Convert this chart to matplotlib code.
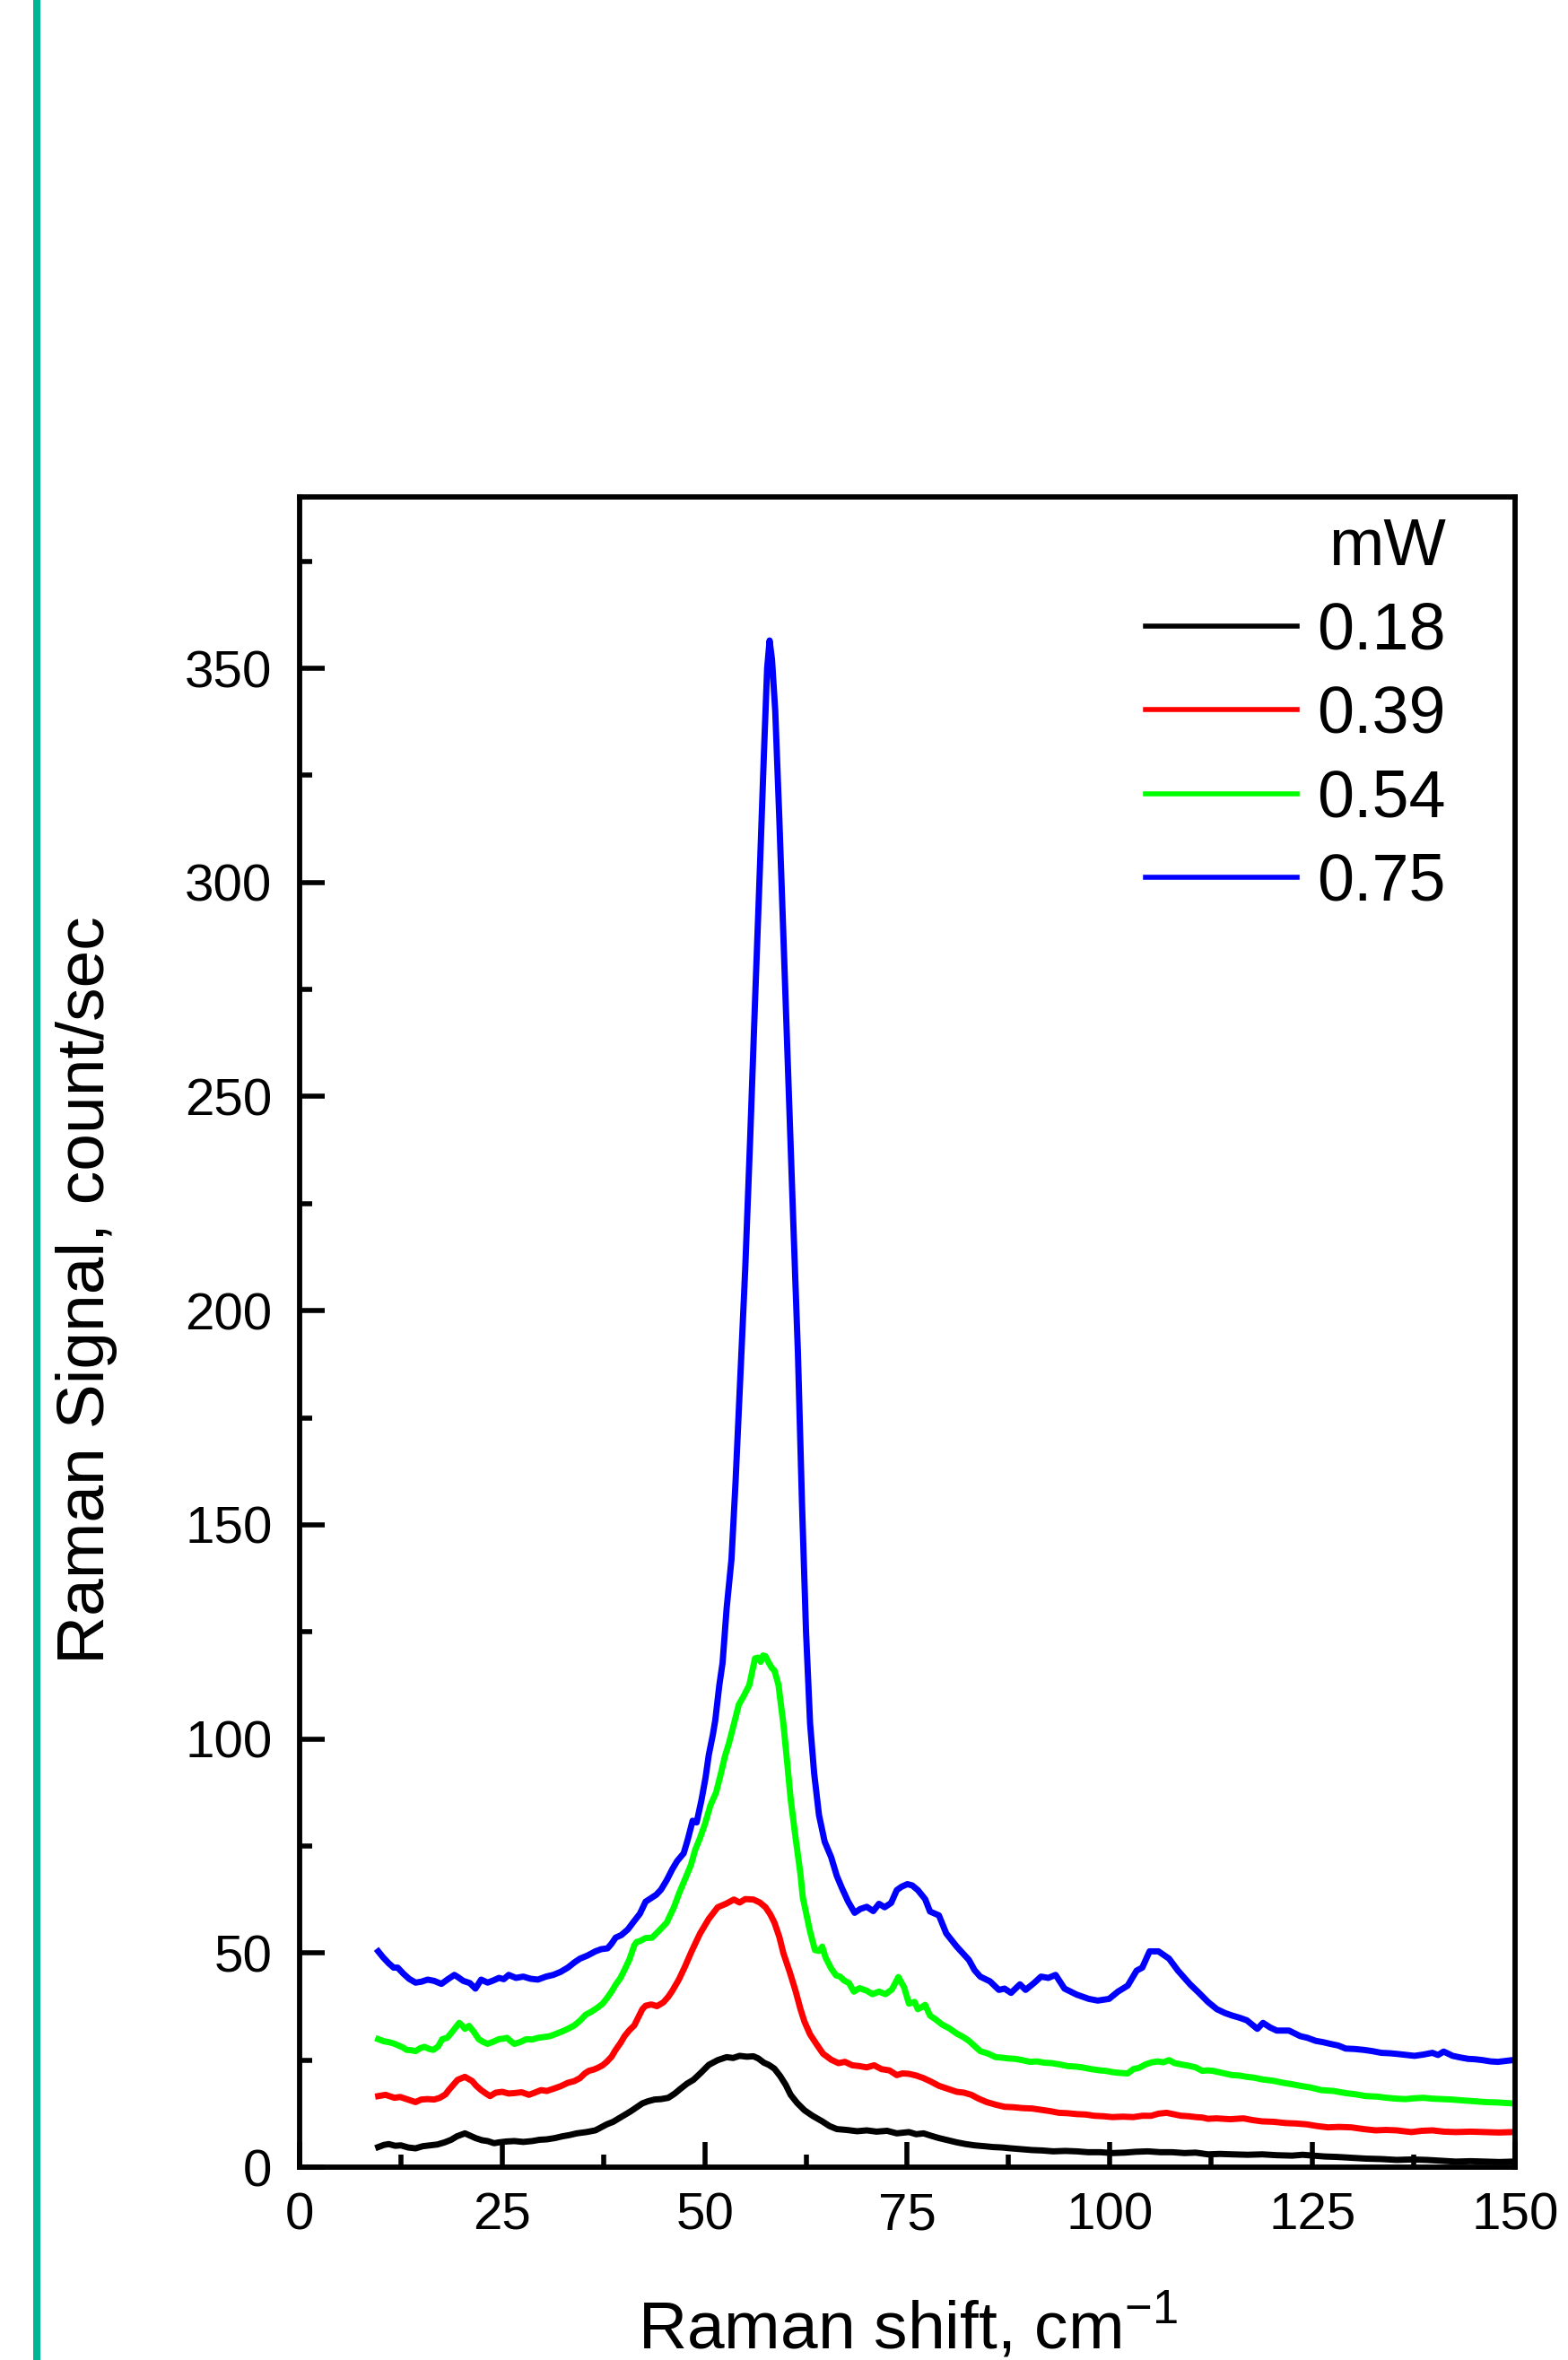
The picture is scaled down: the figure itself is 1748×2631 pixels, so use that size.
"""
Raman spectra at four laser powers (0.18 - 0.75 mW), 10-150 cm-1.
Values read off the reference picture.
"""
import matplotlib
matplotlib.use("Agg")
import matplotlib.pyplot as plt
from matplotlib.patches import Rectangle
from matplotlib.ticker import MultipleLocator

plt.rcParams["font.family"] = ["Liberation Sans", "DejaVu Sans"]
plt.rcParams["mathtext.fontset"] = "custom"
plt.rcParams["mathtext.rm"] = "Liberation Sans"

POWERS = ["0.18", "0.39", "0.54", "0.75"]
COLOURS = ["#000000", "#FF0000", "#00FF00", "#0000FF"]

x_018 = [9.7, 10.4, 11.0, 11.8, 12.5, 13.4, 14.3, 15.2, 16.1, 17.0, 17.9, 18.7, 19.4, 20.4, 21.0,
         21.7, 22.5, 23.2, 24.0, 24.6, 25.5, 26.5, 27.6, 28.7, 29.6, 30.5, 31.5, 32.4, 33.3, 34.2,
         35.4, 36.5, 37.2, 37.9, 38.7, 39.4, 40.2, 40.9, 41.6, 42.3, 43.0, 43.8, 44.6, 45.5, 46.3,
         47.0, 47.8, 48.6, 49.5, 50.5, 51.6, 52.7, 53.5, 54.3, 55.2, 56.0, 56.6, 57.3, 57.9, 58.6,
         59.3, 60.0, 60.6, 61.4, 62.3, 63.3, 64.5, 65.4, 66.3, 67.5, 68.8, 70.0, 71.2, 72.5, 73.7,
         75.2, 76.1, 77.0, 78.0, 78.9, 80.0, 81.1, 82.2, 83.3, 84.5, 85.6, 86.7, 87.8, 89.1, 90.4,
         91.7, 93.0, 94.5, 95.9, 97.3, 98.8, 100.3, 101.8, 103.2, 104.7, 106.2, 107.7, 109.2, 110.6,
         112.1, 113.6, 115.1, 117.0, 118.8, 120.6, 122.5, 123.8, 125.1, 126.5, 128.0, 129.8, 131.6,
         133.5, 135.4, 137.2, 139.1, 140.9, 142.7, 144.5, 146.4, 148.1, 149.7]
y_018 = [4.7, 5.2, 5.4, 5.0, 5.1, 4.6, 4.4, 4.9, 5.1, 5.3, 5.8, 6.4, 7.2, 7.9, 7.4,
         6.8, 6.3, 6.1, 5.6, 5.8, 6.0, 6.1, 5.9, 6.1, 6.4, 6.5, 6.8, 7.2, 7.5, 7.9,
         8.2, 8.6, 9.3, 10.0, 10.6, 11.4, 12.3, 13.1, 14.0, 14.9, 15.4, 15.8, 15.9, 16.2, 17.2,
         18.3, 19.5, 20.4, 22.0, 23.9, 25.0, 25.7, 25.5, 26.0, 25.8, 25.9, 25.4, 24.4, 23.9, 23.0,
         21.3, 19.2, 16.9, 15.0, 13.3, 12.0, 10.7, 9.6, 8.9, 8.7, 8.4, 8.6, 8.3, 8.5, 7.9,
         8.2, 7.7, 7.9, 7.3, 6.8, 6.3, 5.8, 5.4, 5.1, 4.9, 4.7, 4.6, 4.4, 4.2, 4.0,
         3.9, 3.7, 3.8, 3.7, 3.5, 3.5, 3.3, 3.4, 3.6, 3.7, 3.5, 3.5, 3.3, 3.4,
         3.0, 3.1, 3.0, 2.9, 3.0, 2.8, 2.7, 2.9, 2.7, 2.5, 2.4, 2.2, 2.0,
         1.9, 1.7, 1.8, 1.7, 1.5, 1.3, 1.4, 1.3, 1.2, 1.3]

x_039 = [9.7, 10.6, 11.7, 12.4, 13.2, 14.3, 15.0, 15.8, 16.6, 17.3, 18.0, 18.4, 19.0, 19.5, 20.4,
         21.3, 21.8, 22.4, 23.0, 23.5, 24.2, 25.0, 25.8, 26.5, 27.4, 28.3, 29.0, 29.8, 30.5, 31.3,
         32.2, 33.1, 33.9, 34.6, 35.2, 35.7, 36.3, 36.8, 37.4, 37.9, 38.5, 39.0, 39.6, 40.1, 40.7,
         41.3, 41.8, 42.3, 42.7, 43.4, 44.1, 44.9, 45.5, 46.0, 46.8, 47.5, 48.4, 49.4, 50.5, 51.6,
         52.6, 53.6, 54.3, 55.0, 56.0, 56.8, 57.5, 58.1, 58.6, 59.2, 59.7, 60.5, 61.2, 61.8, 62.3,
         63.0, 63.8, 64.6, 65.6, 66.5, 67.3, 68.2, 69.1, 70.0, 70.9, 71.8, 72.8, 73.7, 74.4, 75.2,
         76.1, 77.0, 77.9, 78.9, 80.0, 81.1, 82.0, 82.9, 83.8, 84.8, 85.9, 87.0, 88.1, 89.2, 90.4,
         91.5, 92.6, 93.7, 94.8, 95.9, 97.0, 98.1, 99.2, 100.3, 101.6, 102.9, 104.0, 105.1, 106.0,
         107.0, 108.0, 108.8, 109.7, 110.6, 111.4, 112.1, 113.2, 114.8, 116.5, 117.6, 118.8, 120.2,
         121.7, 123.0, 124.3, 125.6, 126.9, 128.3, 129.8, 131.3, 132.8, 134.1, 135.4, 136.3, 137.2,
         138.5, 139.8, 141.2, 142.7, 144.5, 146.4, 148.0, 149.7]
y_039 = [16.6, 16.9, 16.2, 16.4, 15.9, 15.2, 15.8, 15.9, 15.8, 16.2, 17.0, 18.0, 19.3, 20.4, 21.1,
         20.1, 19.0, 18.0, 17.2, 16.6, 17.4, 17.6, 17.2, 17.3, 17.5, 16.9, 17.4, 18.0, 17.8, 18.3,
         18.9, 19.7, 20.1, 20.8, 21.9, 22.5, 22.8, 23.2, 23.8, 24.6, 25.8, 27.4, 29.0, 30.6, 32.0,
         33.1, 35.0, 36.9, 37.7, 38.0, 37.6, 38.5, 39.8, 41.2, 43.8, 46.6, 50.5, 54.5, 58.0, 60.7,
         61.5, 62.5, 61.8, 62.6, 62.5, 61.8, 60.7, 59.0, 57.1, 53.8, 50.0, 45.5, 41.2, 37.0, 34.0,
         31.0, 28.7, 26.5, 25.1, 24.3, 24.6, 23.8, 23.6, 23.3, 23.8, 22.9, 22.6, 21.5, 21.9, 21.8,
         21.4, 20.8, 20.0, 19.0, 18.3, 17.6, 17.4, 16.9, 16.0, 15.2, 14.6, 14.1, 14.0, 13.8, 13.7,
         13.4, 13.1, 12.7, 12.6, 12.4, 12.3, 12.0, 11.9, 11.7, 11.8, 11.7, 12.0, 12.0, 12.5,
         12.7, 12.3, 12.0, 11.9, 11.7, 11.6, 11.3, 11.4, 11.2, 11.4, 11.0, 10.7, 10.6,
         10.3, 10.2, 10.0, 9.6, 9.3, 9.4, 9.3, 8.9, 8.6, 8.7, 8.6, 8.4, 8.2,
         8.5, 8.6, 8.3, 8.2, 8.3, 8.2, 8.1, 8.2]

x_054 = [9.7, 10.4, 11.0, 11.6, 12.1, 12.7, 13.2, 13.8, 14.3, 14.9, 15.4, 16.0, 16.5, 17.1, 17.6,
         18.2, 18.7, 19.2, 19.7, 20.1, 20.4, 20.9, 21.5, 22.1, 22.6, 23.2, 23.9, 24.6, 25.1, 25.6,
         26.0, 26.5, 27.2, 28.0, 28.7, 29.4, 30.2, 30.9, 31.6, 32.4, 33.1, 33.9, 34.6, 35.3, 36.0,
         36.8, 37.4, 37.9, 38.5, 39.0, 39.6, 40.1, 40.7, 41.3, 41.6, 42.0, 42.7, 43.5, 44.4, 45.3,
         46.2, 46.8, 47.5, 48.3, 48.8, 49.4, 50.0, 50.7, 51.4, 52.0, 52.5, 53.0, 53.6, 54.2, 54.8,
         55.5, 56.2, 56.6, 56.9, 57.2, 57.5, 57.9, 58.3, 58.6, 59.1, 59.4, 59.7, 60.2, 60.6, 61.2,
         61.8, 62.1, 62.5, 63.0, 63.6, 64.1, 64.5, 64.9, 65.6, 66.2, 66.7, 67.2, 67.8, 68.4, 69.1,
         70.0, 70.7, 71.5, 72.3, 73.1, 73.9, 74.6, 75.2, 75.9, 76.3, 76.8, 77.2, 77.8, 78.5, 79.3,
         80.2, 81.1, 81.9, 82.6, 83.3, 84.0, 85.0, 85.9, 86.6, 87.4, 88.3, 89.2, 90.1, 91.0, 91.9,
         92.8, 93.8, 94.8, 95.7, 96.6, 97.7, 98.8, 99.5, 100.3, 101.3, 102.2, 102.9, 103.6, 104.4,
         105.2, 105.9, 106.6, 107.3, 108.0, 108.8, 109.7, 110.6, 111.4, 112.1, 112.7, 113.9, 115.1,
         116.0, 116.9, 117.8, 118.8, 120.1, 121.4, 122.4, 123.5, 124.8, 126.1, 127.6, 129.1, 130.4,
         131.6, 132.9, 134.2, 135.4, 136.5, 137.6, 138.7, 139.8, 140.9, 142.2, 143.5, 145.0, 146.4,
         148.0, 149.7]
y_054 = [29.9, 29.4, 29.2, 28.9, 28.5, 28.0, 27.4, 27.3, 27.1, 27.8, 28.1, 27.6, 27.4, 28.2, 29.9,
         30.2, 31.3, 32.5, 33.7, 33.0, 32.3, 33.0, 31.6, 29.9, 29.3, 28.8, 29.3, 29.9, 30.0, 30.2,
         29.5, 28.8, 29.2, 29.9, 29.8, 30.2, 30.4, 30.6, 31.1, 31.7, 32.3, 33.1, 34.2, 35.6, 36.3,
         37.3, 38.2, 39.4, 41.0, 42.6, 44.2, 46.1, 48.5, 51.8, 52.6, 52.8, 53.5, 53.6, 55.3, 57.1,
         60.7, 63.8, 67.0, 70.6, 74.0, 76.8, 80.0, 84.5, 87.5, 92.0, 96.0, 99.1, 103.5, 108.0, 110.0,
         112.6, 118.8, 119.0, 118.0, 119.5, 119.3, 117.8, 116.5, 116.0, 112.6, 108.0, 103.6, 94.0, 86.0, 77.0,
         68.6, 63.0, 59.4, 55.0, 50.7, 50.5, 51.5, 49.0, 46.4, 44.8, 44.5, 43.6, 43.0, 41.0, 41.8,
         41.2, 40.4, 41.0, 40.4, 41.5, 44.4, 42.0, 38.2, 38.6, 36.9, 37.4, 37.9, 35.4, 34.5, 33.3,
         32.4, 31.2, 30.4, 29.5, 28.3, 27.1, 26.5, 25.7, 25.6, 25.4, 25.3, 25.0, 24.6, 24.7, 24.4,
         24.3, 24.0, 23.6, 23.5, 23.3, 22.9, 22.6, 22.5, 22.2, 22.0, 21.9, 22.9, 23.2, 24.0,
         24.5, 24.7, 24.5, 25.0, 24.3, 24.0, 23.7, 23.3, 22.5, 22.6, 22.5, 22.0, 21.5,
         21.4, 21.1, 20.9, 20.5, 20.2, 19.7, 19.4, 19.0, 18.6, 18.0, 17.8, 17.3, 17.0,
         16.6, 16.5, 16.2, 16.0, 15.9, 16.1, 16.2, 16.0, 15.9, 15.8, 15.6, 15.4, 15.2,
         15.1, 14.9]

x_075 = [9.7, 10.3, 11.0, 11.6, 12.1, 12.8, 13.5, 14.3, 15.0, 15.8, 16.6, 17.5, 18.3, 19.1, 19.6,
         20.2, 21.0, 21.7, 22.4, 23.2, 23.9, 24.6, 25.2, 25.8, 26.7, 27.6, 28.5, 29.4, 30.4, 31.3,
         32.2, 33.1, 33.9, 34.6, 35.5, 36.5, 37.2, 38.0, 38.5, 39.0, 39.7, 40.5, 41.3, 42.0, 42.7,
         43.5, 44.0, 44.6, 45.3, 46.0, 46.6, 47.4, 47.9, 48.5, 49.0, 49.6, 50.1, 50.5, 51.0, 51.3,
         51.8, 52.2, 52.7, 53.3, 53.8, 54.4, 55.0, 55.6, 56.2, 56.8, 57.3, 57.7, 58.0, 58.3, 58.7,
         59.2, 59.7, 60.3, 60.9, 61.5, 62.0, 62.5, 63.0, 63.5, 64.1, 64.8, 65.6, 66.3, 66.9, 67.7,
         68.5, 69.2, 70.0, 70.8, 71.5, 72.2, 73.0, 73.7, 74.3, 75.0, 75.6, 76.3, 77.2, 77.8, 78.9,
         79.8, 81.1, 82.6, 83.3, 84.0, 85.2, 86.3, 87.0, 87.8, 88.9, 89.6, 90.7, 91.5, 92.4, 93.3,
         94.4, 95.9, 97.4, 98.5, 99.9, 101.0, 102.2, 103.3, 104.0, 104.9, 106.0, 107.3, 108.4, 109.9,
         111.0, 112.1, 113.2, 114.2, 115.1, 116.0, 116.9, 118.2, 118.9, 119.8, 120.6, 122.1, 123.5,
         124.4, 125.4, 126.3, 127.2, 128.2, 129.1, 130.2, 131.3, 132.4, 133.5, 134.6, 135.7, 136.6,
         137.6, 138.7, 139.8, 140.5, 141.2, 142.3, 143.3, 144.2, 145.1, 146.0, 147.0, 147.9, 148.8,
         149.7]
y_075 = [50.4, 49.0, 47.6, 46.6, 46.6, 45.2, 44.0, 43.1, 43.3, 43.8, 43.5, 42.8, 43.9, 44.9, 44.3,
         43.5, 43.0, 41.7, 43.8, 43.1, 43.6, 44.2, 43.9, 44.9, 44.2, 44.5, 44.0, 43.8, 44.5, 44.9,
         45.6, 46.6, 47.8, 48.7, 49.4, 50.4, 50.9, 51.1, 52.2, 53.6, 54.2, 55.5, 57.5, 59.2, 62.0,
         63.0, 63.6, 64.8, 67.0, 69.6, 71.5, 73.3, 76.5, 80.9, 80.5, 85.8, 91.0, 96.3, 101.0, 104.4,
         112.6, 117.8, 130.5, 142.0, 160.0, 185.0, 210.0, 240.0, 272.0, 303.0, 330.0, 350.0, 356.5, 352.0, 340.0,
         315.0, 288.0, 255.0, 222.0, 190.0, 155.0, 125.0, 103.6, 92.0, 82.2, 76.0, 72.4, 68.0, 65.3, 62.0,
         59.4, 60.3, 60.8, 59.8, 61.5, 60.7, 61.7, 64.7, 65.5, 66.1, 65.8, 64.7, 62.6, 59.7, 58.8,
         54.6, 51.5, 48.4, 46.0, 44.5, 43.4, 41.4, 41.7, 40.7, 42.7, 41.4, 43.1, 44.5, 44.2, 44.9,
         41.7, 40.3, 39.3, 38.9, 39.3, 41.0, 42.4, 45.9, 46.6, 50.4, 50.4, 48.7, 45.9, 42.7,
         40.7, 38.6, 36.9, 36.0, 35.4, 34.9, 34.3, 32.3, 33.7, 32.6, 31.9, 31.9, 30.6,
         30.2, 29.5, 29.2, 28.8, 28.4, 27.7, 27.6, 27.4, 27.1, 26.7, 26.6, 26.4, 26.2,
         26.0, 26.3, 26.7, 26.2, 27.0, 26.0, 25.6, 25.3, 25.2, 25.0, 24.7, 24.6, 24.8,
         25.0]

XS = [x_018, x_039, x_054, x_075]
YS = [y_018, y_039, y_054, y_075]

fig = plt.figure(figsize=(17.48, 26.31), dpi=100)
ax = fig.add_axes([0.1911, 0.0817, 0.7751, 0.7077])

# teal bar down the left edge of the page
fig.add_artist(Rectangle((37 / 1748, 0), 8 / 1748, 1, transform=fig.transFigure,
                         color="#00B496", lw=0))

for xs, ys, c, p in zip(XS, YS, COLOURS, POWERS):
    ax.plot(xs, ys, color=c, lw=5.0, label=p, solid_joinstyle="round")

ax.set_xlim(0, 150)
ax.set_ylim(0, 390)
ax.xaxis.set_major_locator(MultipleLocator(25))
ax.xaxis.set_minor_locator(MultipleLocator(12.5))
ax.yaxis.set_major_locator(MultipleLocator(50))
ax.yaxis.set_minor_locator(MultipleLocator(25))
ax.tick_params(which="both", direction="in", top=False, right=False, width=4.0, labelsize=42)
ax.tick_params(which="major", length=20)
ax.tick_params(which="minor", length=10)
ax.tick_params(axis="x", which="major", pad=20)
ax.tick_params(axis="y", which="major", pad=22)
for s in ax.spines.values():
    s.set_linewidth(4.2)

ax.set_xlabel("Raman shift, cm$^{\\mathregular{-1}}$", fontsize=54)
ax.set_ylabel("Raman Signal, count/sec", fontsize=54)
ax.xaxis.set_label_coords(0.5, -0.074)
ax.yaxis.set_label_coords(-0.15, 0.525)

leg = ax.legend(title="mW", loc="upper right", bbox_to_anchor=(0.943, 0.988), frameon=False,
                fontsize=53, title_fontsize=53, handlelength=2.3, handletextpad=0.3,
                labelspacing=0.33, borderpad=0, borderaxespad=0, alignment="right")
for line in leg.get_lines():
    line.set_linewidth(4.0)

fig.savefig("out.png", dpi=100)
